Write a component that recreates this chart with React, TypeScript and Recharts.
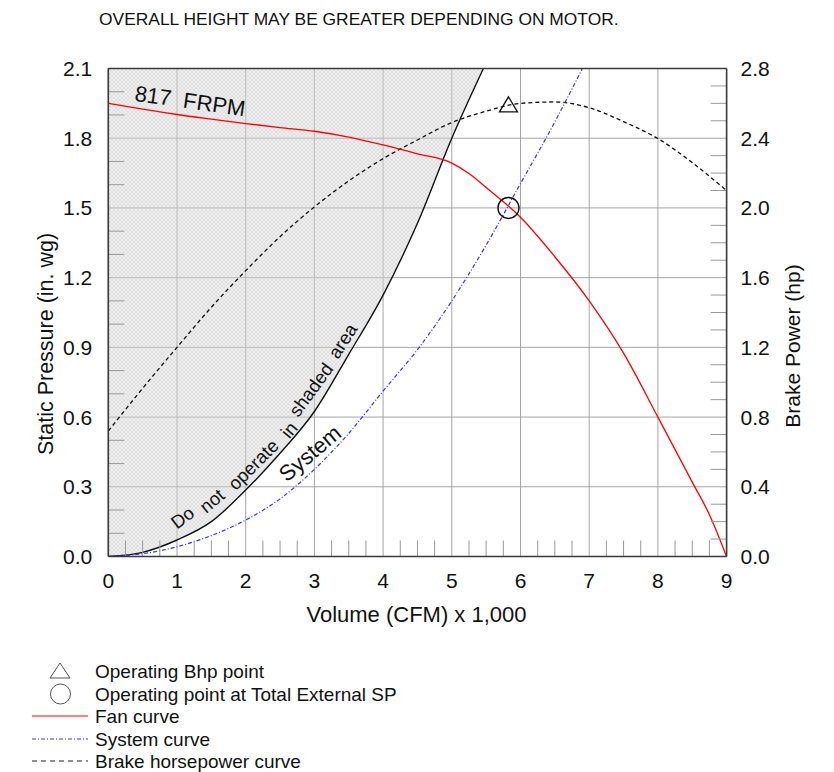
import React from 'react';
import { ComposedChart, Line, Area, Scatter, XAxis, YAxis, CartesianGrid, ReferenceLine } from 'recharts';

const FONT = '"Liberation Sans", Arial, sans-serif';

// axis ticks
const X_TICKS = [0, 1, 2, 3, 4, 5, 6, 7, 8, 9];
const SP_TICKS = [0, 0.3, 0.6, 0.9, 1.2, 1.5, 1.8, 2.1];
const BHP_TICKS = [0, 0.4, 0.8, 1.2, 1.6, 2.0, 2.4, 2.8];
const MINOR_X = [0.25, 0.5, 0.75, 1.25, 1.5, 1.75, 2.25, 2.5, 2.75, 3.25, 3.5, 3.75, 4.25, 4.5, 4.75, 5.25, 5.5, 5.75, 6.25, 6.5, 6.75, 7.25, 7.5, 7.75, 8.25, 8.5, 8.75];
const MINOR_SP = [0.1, 0.2, 0.4, 0.5, 0.7, 0.8, 1.0, 1.1, 1.3, 1.4, 1.6, 1.7, 1.9, 2.0];
const MINOR_BHP = [0.1, 0.2, 0.3, 0.5, 0.6, 0.7, 0.9, 1.0, 1.1, 1.3, 1.4, 1.5, 1.7, 1.8, 1.9, 2.1, 2.2, 2.3, 2.5, 2.6, 2.7];

// curves (x = CFM / 1000)
const fanCurve = [
  { x: 0, y: 1.95 }, { x: 0.5, y: 1.925 }, { x: 1, y: 1.902 }, { x: 1.5, y: 1.882 },
  { x: 2, y: 1.863 }, { x: 2.5, y: 1.846 }, { x: 3, y: 1.83 }, { x: 3.5, y: 1.805 },
  { x: 4, y: 1.771 }, { x: 4.5, y: 1.733 }, { x: 5, y: 1.693 }, { x: 5.25, y: 1.648 },
  { x: 5.5, y: 1.588 }, { x: 6, y: 1.46 }, { x: 6.5, y: 1.29 }, { x: 7, y: 1.1 },
  { x: 7.5, y: 0.875 }, { x: 8, y: 0.6 }, { x: 8.5, y: 0.32 }, { x: 8.75, y: 0.18 }, { x: 9, y: 0 },
];

const systemCurve = [
  { x: 0, y: 0 }, { x: 0.5, y: 0.012 }, { x: 1, y: 0.042 }, { x: 1.5, y: 0.09 },
  { x: 2, y: 0.157 }, { x: 2.5, y: 0.248 }, { x: 3, y: 0.375 }, { x: 3.5, y: 0.53 },
  { x: 4, y: 0.712 }, { x: 4.5, y: 0.89 }, { x: 5, y: 1.1 }, { x: 5.5, y: 1.34 },
  { x: 6, y: 1.605 }, { x: 6.5, y: 1.87 }, { x: 6.9, y: 2.1 },
];

const bhpCurve = [
  { x: 0, y: 0.72 }, { x: 0.5, y: 0.965 }, { x: 1, y: 1.2 }, { x: 1.5, y: 1.43 },
  { x: 2, y: 1.64 }, { x: 2.5, y: 1.835 }, { x: 3, y: 2.006 }, { x: 3.5, y: 2.155 },
  { x: 4, y: 2.283 }, { x: 4.5, y: 2.39 }, { x: 5, y: 2.49 }, { x: 5.5, y: 2.555 },
  { x: 6, y: 2.6 }, { x: 6.5, y: 2.608 }, { x: 7, y: 2.575 }, { x: 7.5, y: 2.495 },
  { x: 8, y: 2.398 }, { x: 8.5, y: 2.26 }, { x: 9, y: 2.1 },
];

// stall limit, left of it is shaded
const limitCurve = [
  { x: 0, y: 0 }, { x: 0.5, y: 0.018 }, { x: 1, y: 0.071 }, { x: 1.5, y: 0.15 },
  { x: 2, y: 0.286 }, { x: 2.5, y: 0.444 }, { x: 3, y: 0.624 }, { x: 3.5, y: 0.87 },
  { x: 4, y: 1.125 }, { x: 4.5, y: 1.434 }, { x: 5, y: 1.8 }, { x: 5.46, y: 2.1 },
];
const shadedArea = limitCurve.map((p) => ({ x: p.x, y: [p.y, 2.1] }));

const operatingPoint = [{ x: 5.825, y: 1.5 }];
const bhpPoint = [{ x: 5.825, y: 2.6 }];

const notes = [
  { x: 1.19, y: 1.96, text: '817\u00A0\u00A0FRPM', angle: 8, size: 22 },
  { x: 2.936, y: 0.444, text: 'System', angle: -40, size: 22 },
  { x: 1.08, y: 0.168, text: 'Do', angle: -37, size: 18.5 },
  { x: 1.51, y: 0.24, text: 'not', angle: -40, size: 18.5 },
  { x: 2.11, y: 0.396, text: 'operate', angle: -45, size: 18.5 },
  { x: 2.63, y: 0.545, text: 'in', angle: -50, size: 18.5 },
  { x: 2.95, y: 0.718, text: 'shaded', angle: -54, size: 18.5 },
  { x: 3.41, y: 0.928, text: 'area', angle: -57, size: 18.5 },
];

const LEGEND = [
  { label: 'Operating Bhp point', kind: 'triangle' },
  { label: 'Operating point at Total External SP', kind: 'circle' },
  { label: 'Fan curve', kind: 'fan' },
  { label: 'System curve', kind: 'system' },
  { label: 'Brake horsepower curve', kind: 'bhp' },
];
const LEGEND_Y = [671, 694, 716, 739, 761];

const FRAME = '#3a3a3a';
const TICK_X = 0.233;
const TICK_SP = 0.069;

const renderNote = (p: any) => {
  const { cx, cy, payload } = p;
  return (
    <text
      x={cx}
      y={cy}
      transform={`rotate(${payload.angle} ${cx} ${cy})`}
      textAnchor="middle"
      dominantBaseline="central"
      fontSize={payload.size}
      fontFamily={FONT}
      fill="#111"
    >
      {payload.text}
    </text>
  );
};

const renderCircle = (p: any) => (
  <circle cx={p.cx} cy={p.cy} r={10.5} fill="none" stroke="#111" strokeWidth={1.4} />
);

const renderTriangle = (p: any) => (
  <path
    d={`M${p.cx},${p.cy - 6.5} L${p.cx + 9},${p.cy + 8.5} L${p.cx - 9},${p.cy + 8.5} Z`}
    fill="none"
    stroke="#111"
    strokeWidth={1.3}
  />
);

const LegendSymbol = ({ kind, y }: { kind: string; y: number }) => {
  if (kind === 'triangle')
    return <path d={`M60,${y - 8} L70,${y + 7} L50,${y + 7} Z`} fill="none" stroke="#555" strokeWidth={1} />;
  if (kind === 'circle') return <circle cx={60.5} cy={y} r={10} fill="none" stroke="#555" strokeWidth={1} />;
  if (kind === 'fan') return <line x1={32} x2={88} y1={y} y2={y} stroke="#ff0000" strokeWidth={1.2} />;
  if (kind === 'system')
    return <line x1={32} x2={88} y1={y} y2={y} stroke="#3333ff" strokeWidth={1.2} strokeDasharray="4 2 1 2" />;
  return <line x1={32} x2={88} y1={y} y2={y} stroke="#222" strokeWidth={1.2} strokeDasharray="5 4" />;
};

export default function App() {
  return (
    <div style={{ position: 'absolute', left: 0, top: 0, width: 834, height: 772, background: '#fff', overflow: 'hidden' }}>
      <svg width={0} height={0} style={{ position: 'absolute' }}>
        <defs>
          <pattern id="hatch" width="4" height="4" patternUnits="userSpaceOnUse">
            <rect width="4" height="4" fill="#d8d8d8" fillOpacity={0.4} />
            <path d="M0,0 L4,4 M4,0 L0,4" stroke="#c4c4c4" strokeOpacity={0.5} strokeWidth={0.7} />
          </pattern>
        </defs>
      </svg>

      <div style={{ position: 'absolute', left: 0, top: 0 }}>
        <ComposedChart width={834} height={650} margin={{ top: 68.5, right: 47.4, bottom: 53.5, left: 48.3 }}>
          <CartesianGrid yAxisId="left" stroke="#a6a6a6" strokeWidth={1} />
          <XAxis
            type="number"
            dataKey="x"
            domain={[0, 9]}
            ticks={X_TICKS}
            allowDataOverflow
            height={40}
            tickLine={false}
            tickSize={10}
            tickMargin={7}
            axisLine={{ stroke: FRAME, strokeWidth: 1.6 }}
            tick={{ fontSize: 21, fontFamily: FONT, fill: '#111' }}
          />
          <YAxis
            yAxisId="left"
            type="number"
            domain={[0, 2.1]}
            ticks={SP_TICKS}
            allowDataOverflow
            width={60}
            tickLine={false}
            tickSize={10}
            tickMargin={6}
            tickFormatter={(v: number) => v.toFixed(1)}
            axisLine={{ stroke: FRAME, strokeWidth: 1.6 }}
            tick={{ fontSize: 21, fontFamily: FONT, fill: '#111' }}
          />
          <YAxis
            yAxisId="right"
            orientation="right"
            type="number"
            domain={[0, 2.8]}
            ticks={BHP_TICKS}
            allowDataOverflow
            width={60}
            tickLine={false}
            tickSize={8}
            tickMargin={6}
            tickFormatter={(v: number) => v.toFixed(1)}
            axisLine={{ stroke: FRAME, strokeWidth: 1.6 }}
            tick={{ fontSize: 21, fontFamily: FONT, fill: '#111' }}
          />

          <Area
            yAxisId="left"
            data={shadedArea}
            dataKey="y"
            type="monotone"
            stroke="none"
            fill="url(#hatch)"
            fillOpacity={1}
            isAnimationActive={false}
          />
          <Line yAxisId="left" data={limitCurve} dataKey="y" type="monotone" stroke="#111" strokeWidth={1.4} dot={false} isAnimationActive={false} />
          <Line yAxisId="right" data={bhpCurve} dataKey="y" type="monotone" stroke="#111" strokeWidth={1.3} strokeDasharray="4 3" dot={false} isAnimationActive={false} />
          <Line yAxisId="left" data={systemCurve} dataKey="y" type="monotone" stroke="#3333ff" strokeWidth={1.2} strokeDasharray="4 2 1 2" dot={false} isAnimationActive={false} />
          <Line yAxisId="left" data={fanCurve} dataKey="y" type="monotone" stroke="#ff0000" strokeWidth={1.3} dot={false} isAnimationActive={false} />

          <Scatter yAxisId="left" data={operatingPoint} dataKey="y" shape={renderCircle} isAnimationActive={false} />
          <Scatter yAxisId="right" data={bhpPoint} dataKey="y" shape={renderTriangle} isAnimationActive={false} />
          <Scatter yAxisId="left" data={notes} dataKey="y" shape={renderNote} isAnimationActive={false} />

          <ReferenceLine yAxisId="left" y={2.1} stroke={FRAME} strokeWidth={1.6} />
          {MINOR_X.map((v) => (
            <ReferenceLine key={`mx${v}`} yAxisId="left" segment={[{ x: v, y: 0 }, { x: v, y: TICK_SP }]} stroke="#999" />
          ))}
          {MINOR_SP.map((v) => (
            <ReferenceLine key={`ms${v}`} yAxisId="left" segment={[{ x: 0, y: v }, { x: TICK_X, y: v }]} stroke="#999" />
          ))}
          {MINOR_BHP.map((v) => (
            <ReferenceLine key={`mb${v}`} yAxisId="right" segment={[{ x: 9 - TICK_X, y: v }, { x: 9, y: v }]} stroke="#999" />
          ))}
        </ComposedChart>
      </div>

      <svg width={834} height={772} style={{ position: 'absolute', left: 0, top: 0, pointerEvents: 'none' }}>
        <text x={99} y={24.5} fontSize={17.4} fontFamily={FONT} fill="#111">
          OVERALL HEIGHT MAY BE GREATER DEPENDING ON MOTOR.
        </text>
        <text x={416.5} y={621.5} fontSize={22} fontFamily={FONT} fill="#111" textAnchor="middle">
          Volume (CFM) x 1,000
        </text>
        <text x={52.5} y={344} fontSize={21.5} fontFamily={FONT} fill="#111" textAnchor="middle" transform="rotate(-90 52.5 344)">
          Static Pressure (in. wg)
        </text>
        <text x={799.5} y={346} fontSize={21} fontFamily={FONT} fill="#111" textAnchor="middle" transform="rotate(-90 799.5 346)">
          Brake Power (hp)
        </text>
        {LEGEND.map((item, i) => (
          <g key={item.label}>
            <LegendSymbol kind={item.kind} y={LEGEND_Y[i]} />
            <text x={95} y={LEGEND_Y[i] + 6.8} fontSize={19} fontFamily={FONT} fill="#111">
              {item.label}
            </text>
          </g>
        ))}
      </svg>
    </div>
  );
}
